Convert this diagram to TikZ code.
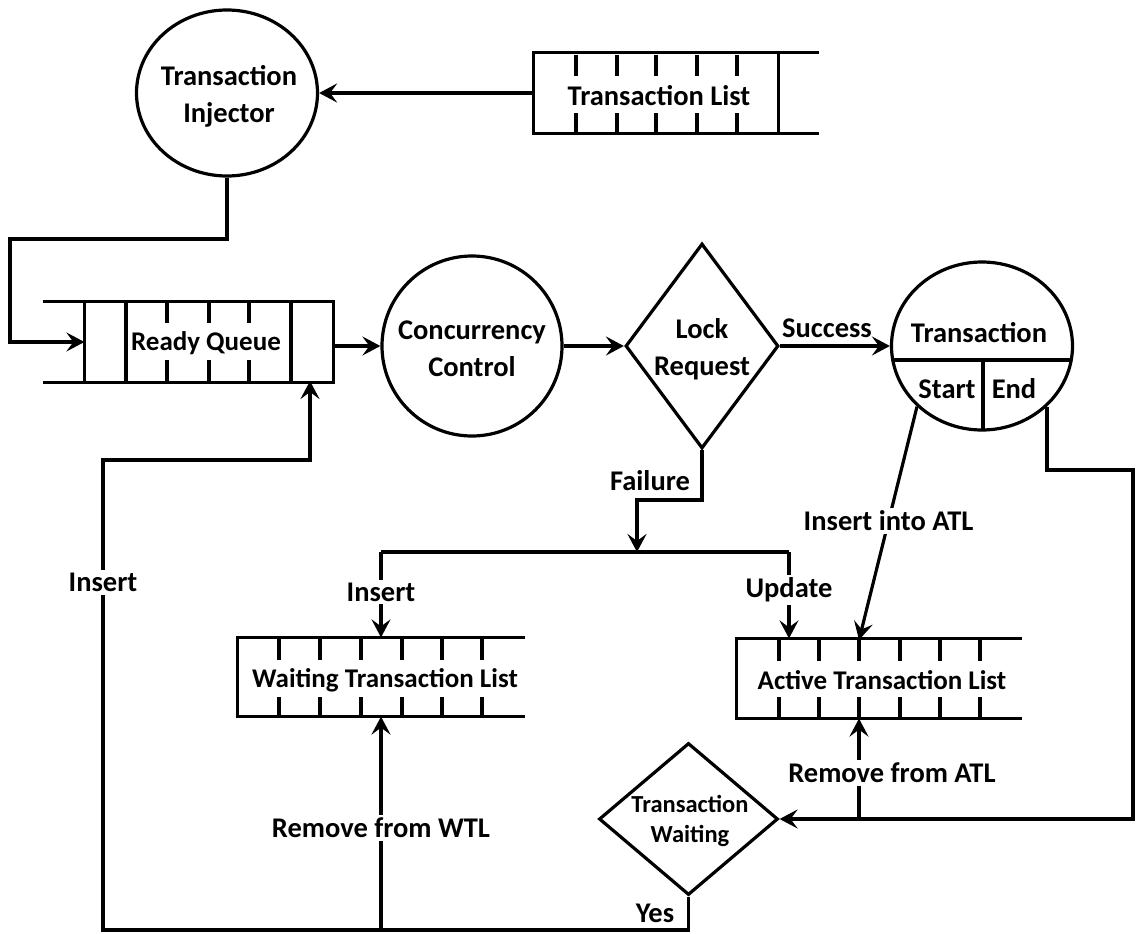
\documentclass[tikz,border=0pt]{standalone}
\usepackage{fontspec}
\setmainfont{Carlito}
\usetikzlibrary{arrows.meta,shapes.geometric}
\begin{document}
\begin{tikzpicture}[x=1pt,y=-1pt,
  line width=3.2pt, line join=miter,
  lbl/.style={font=\fontsize{28.5}{37}\selectfont\bfseries, inner sep=1pt, align=center},
  listlbl/.style={font=\fontsize{27}{36}\selectfont\bfseries, inner sep=1pt},
  small/.style={font=\fontsize{24.5}{30}\selectfont\bfseries, inner sep=1pt, align=center},
  onl/.style={lbl, fill=white, inner sep=3pt},
  arr/.style={-{Stealth[length=18pt,width=19pt,inset=7pt]}},
  bubble/.style={draw, ellipse, inner sep=0pt},
  decision/.style={draw, diamond, inner sep=0pt},
  slot/.style={inner sep=0pt}
]
\useasboundingbox (0,0) rectangle (1136,934);

% ---------- top row: injector and transaction list ----------
\node[bubble, minimum width=181, minimum height=166] (inj) at (227,93) {};
\node[lbl] (injt) at (229,96) {Transaction\\Injector};

\node[slot, minimum width=242, minimum height=77] (tl) at (656,93) {};
\draw (tl.north east) -- (tl.north west) -- (tl.south west) -- (tl.south east) -- cycle;
\draw (tl.north east) -- ++(40,0);
\draw (tl.south east) -- ++(40,0);
\foreach \x in {576,617,656,697,737} {
  \draw (\x,55) -- (\x,76);
  \draw (\x,113) -- (\x,132);
}
\node[lbl] (tlt) at (659,96) {Transaction List};

% ---------- main row ----------
\node[slot, minimum width=246, minimum height=78] (rq) at (209,342) {};
\draw (rq.north west) rectangle (rq.south east);
\draw (rq.north west) -- ++(-41,0);
\draw (rq.south west) -- ++(-41,0);
\foreach \x in {126,291} \draw (\x,303) -- (\x,381);
\foreach \x in {167,209,249} {
  \draw (\x,303) -- (\x,323);
  \draw (\x,360) -- (\x,381);
}
\node[listlbl] (rqt) at (206,343) {Ready Queue};

\node[bubble, minimum width=180, minimum height=180] (cc) at (472,346) {};
\node[lbl] (cct) at (472,349) {Concurrency\\Control};

\node[decision, minimum width=153, minimum height=205] (lr) at (702,346) {};
\node[lbl] (lrt) at (702,349) {Lock\\Request};

\node[bubble, minimum width=181, minimum height=168] (tr) at (982,346) {};
\begin{scope}
  \clip (982,346) ellipse [x radius=90.5, y radius=84];
  \draw (880,360) -- (1090,360);
  \draw (983,360) -- (983,440);
\end{scope}
\node[lbl] (trt) at (979,333) {Transaction};
\node[lbl] (trs) at (947,389) {Start};
\node[lbl] (tre) at (1014,389) {End};

% ---------- lists ----------
\node[slot, minimum width=284, minimum height=76] (wtl) at (381,677) {};
\draw (wtl.north east) -- (wtl.north west) -- (wtl.south west) -- (wtl.south east);
\foreach \x in {279,320,361,402,442,482} {
  \draw (\x,639) -- (\x,660);
  \draw (\x,697) -- (\x,715);
}
\node[listlbl] (wtlt) at (385,680) {Waiting Transaction List};

\node[slot, minimum width=282, minimum height=77] (atl) at (879,678.5) {};
\draw (atl.north east) -- (atl.north west) -- (atl.south west) -- (atl.south east);
\foreach \x in {779,819,859,900,940,980} {
  \draw (\x,640) -- (\x,661);
  \draw (\x,697) -- (\x,717);
}
\node[listlbl] (atlt) at (882,680) {Active Transaction List};

\node[decision, minimum width=179, minimum height=152] (tw) at (688.5,819) {};
\node[small] (twt) at (690,821) {Transaction\\Waiting};

% ---------- connectors ----------
\coordinate (fj) at (637,552);
\coordinate (ins) at (381,552);
\coordinate (upd) at (789,552);
\coordinate (atlin) at (859,640);
\coordinate (rqin) at (310,381);

\draw[arr] (tl.west) -- (tl.west -| inj.east);
\draw[arr] (inj.south) -- (227,239) -- (10,239) -- (10,342) -- (rq.west);
\draw[arr] (rq.east |- cc) -- (cc.west);
\draw[arr] (cc.east) -- (lr.west);
\draw[arr] (lr.east) -- node[lbl, above=6pt, xshift=-8pt] (suc) {Success} (tr.west);

\draw[arr] (lr.south) -- (702,500) -- (637,500) -- (fj);
\node[lbl] (fail) at (650,481) {Failure};
\draw (ins) -- (upd);
\draw[arr] (ins) -- node[onl, pos=0.47] (insw) {Insert} (wtl.north);
\draw[arr] (upd) -- node[onl, pos=0.44] (updt) {Update} (upd |- atl.north);

\draw[arr] (tr.223) -- node[onl, pos=0.49] (insa) {Insert into ATL} (atlin);
\draw[arr] (tr.-43) |- (1133,470) |- (tw.east);
\draw[arr] (atlin |- tw) -- (atlin |- atl.south);
\node[onl] (rma) at (892,773) {Remove from ATL};

\draw[arr] (tw.south) |- (103,930) -- node[onl, pos=0.74] (insr) {Insert} (103,460) -| (rqin);
\node[lbl] (yes) at (655,913) {Yes};
\draw[arr] (wtl.south |- 0,930) -- node[onl, pos=0.48] (rmw) {Remove from WTL} (wtl.south);
\end{tikzpicture}
\end{document}
